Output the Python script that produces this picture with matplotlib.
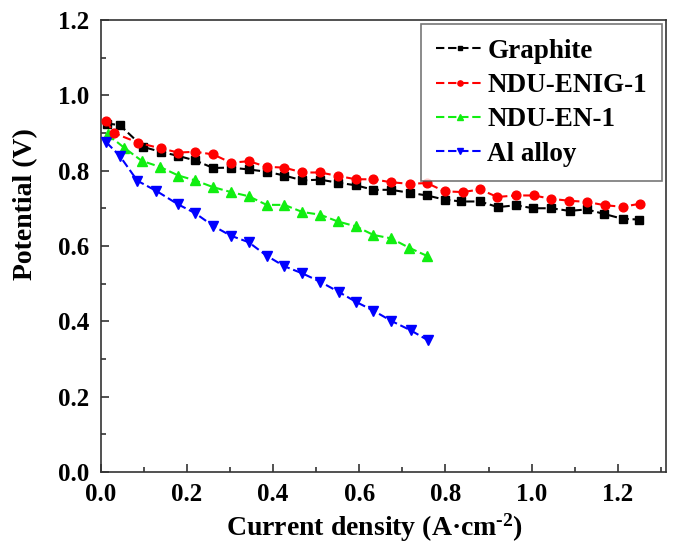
import matplotlib
matplotlib.use("Agg")
import matplotlib.pyplot as plt
from matplotlib.ticker import MultipleLocator, FormatStrFormatter

plt.rcParams['font.family'] = ['Liberation Serif', 'DejaVu Serif']
plt.rcParams['font.weight'] = 'bold'
plt.rcParams['mathtext.fontset'] = 'custom'
plt.rcParams['mathtext.rm'] = 'Liberation Serif:bold'
plt.rcParams['mathtext.bf'] = 'Liberation Serif:bold'
plt.rcParams['mathtext.default'] = 'rm'

# Data
graphite_x = [0.014, 0.044, 0.098, 0.139, 0.180, 0.219, 0.261, 0.302, 0.344, 0.385, 0.426, 0.468,
              0.509, 0.550, 0.592, 0.633, 0.674, 0.717, 0.757, 0.798, 0.837, 0.880, 0.922, 0.963,
              1.004, 1.046, 1.088, 1.128, 1.168, 1.211, 1.250]
graphite_y = [0.925, 0.921, 0.863, 0.850, 0.839, 0.827, 0.807, 0.808, 0.803, 0.797, 0.787, 0.774,
              0.776, 0.768, 0.761, 0.749, 0.749, 0.741, 0.734, 0.723, 0.718, 0.718, 0.703, 0.708,
              0.700, 0.700, 0.693, 0.697, 0.685, 0.672, 0.670]

enig_x = [0.013, 0.030, 0.087, 0.139, 0.180, 0.219, 0.261, 0.302, 0.344, 0.385, 0.426, 0.468,
          0.509, 0.550, 0.592, 0.633, 0.674, 0.717, 0.757, 0.798, 0.840, 0.881, 0.920, 0.963,
          1.005, 1.046, 1.087, 1.128, 1.170, 1.211, 1.252]
enig_y = [0.932, 0.900, 0.874, 0.859, 0.848, 0.850, 0.843, 0.821, 0.825, 0.810, 0.808, 0.795,
          0.795, 0.786, 0.777, 0.777, 0.769, 0.765, 0.767, 0.745, 0.743, 0.750, 0.730, 0.734,
          0.734, 0.725, 0.720, 0.717, 0.708, 0.704, 0.712]

en_x = [0.016, 0.054, 0.095, 0.137, 0.180, 0.219, 0.261, 0.302, 0.343, 0.385, 0.426, 0.468,
        0.509, 0.550, 0.592, 0.633, 0.674, 0.716, 0.758]
en_y = [0.896, 0.861, 0.826, 0.810, 0.787, 0.774, 0.756, 0.743, 0.732, 0.709, 0.709, 0.690,
        0.683, 0.665, 0.652, 0.629, 0.620, 0.595, 0.573]

al_x = [0.013, 0.044, 0.085, 0.129, 0.180, 0.219, 0.261, 0.302, 0.343, 0.385, 0.426, 0.468,
        0.509, 0.552, 0.593, 0.633, 0.674, 0.719, 0.760]
al_y = [0.875, 0.839, 0.773, 0.746, 0.710, 0.687, 0.653, 0.627, 0.610, 0.574, 0.546, 0.527,
        0.505, 0.478, 0.451, 0.428, 0.401, 0.376, 0.349]

labels = ['Graphite', 'NDU-ENIG-1', 'NDU-EN-1', 'Al alloy']

fig = plt.figure(figsize=(6.81, 5.48), dpi=100)
ax = fig.add_axes([0.148, 0.139, 0.830, 0.8245])

dash = (0, (4, 1.8))
ax.plot(graphite_x, graphite_y, color='black', linestyle=dash, lw=1.5, marker='s', ms=5.5, label=labels[0], zorder=3)
ax.plot(enig_x, enig_y, color='#ff0000', linestyle=dash, lw=1.5, marker='o', ms=6.3, label=labels[1], zorder=4)
ax.plot(en_x, en_y, color='#11ee11', linestyle=dash, lw=1.5, marker='^', ms=7.5, label=labels[2], zorder=3)
ax.plot(al_x, al_y, color='#0000ff', linestyle=dash, lw=1.5, marker='v', ms=7.5, label=labels[3], zorder=3)

ax.set_xlim(0, 1.312)
ax.set_ylim(0, 1.2)
ax.xaxis.set_major_locator(MultipleLocator(0.2))
ax.xaxis.set_minor_locator(MultipleLocator(0.1))
ax.yaxis.set_major_locator(MultipleLocator(0.2))
ax.yaxis.set_minor_locator(MultipleLocator(0.1))
ax.xaxis.set_major_formatter(FormatStrFormatter('%.1f'))
ax.yaxis.set_major_formatter(FormatStrFormatter('%.1f'))
ax.tick_params(which='both', direction='in', top=False, right=False, color='#333333', width=1.2)
ax.tick_params(which='major', length=6, labelsize=18)
ax.tick_params(axis='y', which='major', pad=8.5)
ax.tick_params(axis='x', which='major', pad=8)
ax.tick_params(which='minor', length=3.5)
for s in ax.spines.values():
    s.set_color('#333333')
    s.set_linewidth(1.2)

ax.set_xlabel('Current density (A\u00b7cm$^{\\text{-2}}$)', fontsize=20, fontweight='bold')
ax.xaxis.set_label_coords(0.485, -0.088)
ax.set_ylabel('Potential (V)', fontsize=20, fontweight='bold')
ax.yaxis.set_label_coords(-0.11, 0.593)

leg = ax.legend(loc='upper right', bbox_to_anchor=(1.0, 1.0), borderaxespad=0.15, fontsize=19.5,
                frameon=True, fancybox=False, edgecolor='#555555', markerscale=0.6,
                handlelength=1.75, labelspacing=0.34, borderpad=0.55, handletextpad=0.15)
leg.get_frame().set_linewidth(1.2)
for t in leg.get_texts():
    t.set_fontweight('bold')

fig.savefig('out.png', dpi=100)
